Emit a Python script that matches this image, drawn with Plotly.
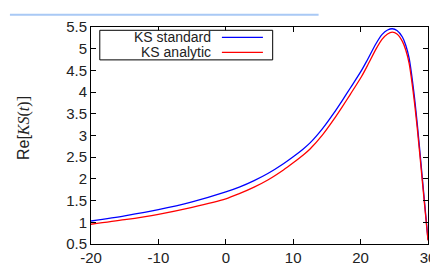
import plotly.graph_objects as go

# data
t_std = [-20, -15, -10, -5, 0, 2, 4.2, 6.3, 8.55, 10, 11.45, 12.5, 14.35, 16, 17.25, 18.5, 20.14, 21, 22.3, 23.2, 24.0, 24.7, 25.4, 26.2, 26.7, 27.2, 27.9, 28.4, 29.2, 30]
ks_std = [1.03, 1.15, 1.29, 1.47, 1.70, 1.81, 1.96, 2.13, 2.35, 2.51, 2.685, 2.83, 3.16, 3.51, 3.80, 4.10, 4.50, 4.74, 5.12, 5.33, 5.43, 5.46, 5.42, 5.27, 5.08, 4.78, 4.00, 3.28, 1.95, 0.60]
t_an = [-20, -15, -10, -5, 0, 2, 4.2, 6.3, 8.55, 10, 11.45, 12.5, 14.35, 16, 17.25, 18.5, 20.14, 21, 22.3, 23.2, 24.0, 24.7, 25.4, 26.2, 26.7, 27.2, 27.9, 28.4, 29.2, 30]
ks_an = [0.955, 1.06, 1.185, 1.345, 1.54, 1.66, 1.81, 1.98, 2.205, 2.37, 2.545, 2.69, 3.015, 3.365, 3.655, 3.955, 4.36, 4.605, 4.995, 5.22, 5.34, 5.38, 5.34, 5.17, 4.97, 4.66, 3.88, 3.18, 1.88, 0.58]

x_ticks = [-20, -10, 0, 10, 20, 30]
y_ticks = [0.5, 1, 1.5, 2, 2.5, 3, 3.5, 4, 4.5, 5, 5.5]
series_names = ["KS standard", "KS analytic"]
series_colors = ["#0000ff", "#ff0000"]

fig = go.Figure()
for t, v, name, col in [(t_std, ks_std, series_names[0], series_colors[0]),
                        (t_an, ks_an, series_names[1], series_colors[1])]:
    fig.add_trace(go.Scatter(x=t, y=v, mode="lines", name=name,
                             line=dict(color=col, width=1.3, shape="spline", smoothing=0.8),
                             showlegend=False))

font = dict(family="Liberation Sans, Arial, sans-serif", size=15, color="#222")
legend_font = dict(family="Liberation Sans, Arial, sans-serif", size=14, color="#222")
axis_common = dict(showgrid=False, zeroline=False, showline=True, linecolor="black", linewidth=1,
                   mirror="allticks", ticks="inside", ticklen=5, tickcolor="black", tickwidth=1,
                   tickfont=font)
fig.update_xaxes(range=[-20, 30], tickvals=x_ticks, ticktext=[str(v) for v in x_ticks], **axis_common)
fig.update_yaxes(range=[0.5, 5.5], tickvals=y_ticks, ticktext=[f"{v:g}" for v in y_ticks], **axis_common)

# gnuplot-style legend box
W, H = 345.0, 231.0
def px(xp):
    return (xp - 83) / W
def py(yp):
    return 1 - (yp - 14) / H

serif = "'Liberation Serif', 'DejaVu Serif', serif"
ylabel = ("Re[<span style=\"font-family:%s;font-style:italic\">KS</span>"
          "<span style=\"font-family:%s\">(</span>"
          "<span style=\"font-family:%s;font-style:italic\">t</span>"
          "<span style=\"font-family:%s\">)]</span>") % (serif, serif, serif, serif)

shapes = [dict(type="rect", xref="paper", yref="paper", x0=px(92), x1=px(269), y0=py(49), y1=py(17.5),
               line=dict(color="black", width=1), fillcolor="white", layer="above")]
annotations = [dict(xref="paper", yref="paper", x=px(15), y=py(122), text=ylabel, textangle=-90,
                    showarrow=False, xanchor="center", yanchor="middle",
                    font=dict(family="Liberation Sans, Arial, sans-serif", size=16, color="#222"))]
for i, (name, col) in enumerate(zip(series_names, series_colors)):
    yc = 25 + i * 16
    shapes.append(dict(type="line", xref="paper", yref="paper", x0=px(217), x1=px(259), y0=py(yc), y1=py(yc),
                       line=dict(color=col, width=1.3), layer="above"))
    annotations.append(dict(xref="paper", yref="paper", x=px(208), y=py(yc), text=name, showarrow=False,
                            xanchor="right", yanchor="middle", font=legend_font))
# light blue strip on top edge of image
shapes.append(dict(type="rect", xref="paper", yref="paper", x0=px(0), x1=px(316), y0=py(2), y1=py(0),
                   line=dict(width=0), fillcolor="#a9c9f5", layer="above"))

fig.update_layout(width=438, height=268, margin=dict(l=83, r=10, t=14, b=23),
                  paper_bgcolor="white", plot_bgcolor="white",
                  shapes=shapes, annotations=annotations, showlegend=False)
fig.write_html("out.html")
